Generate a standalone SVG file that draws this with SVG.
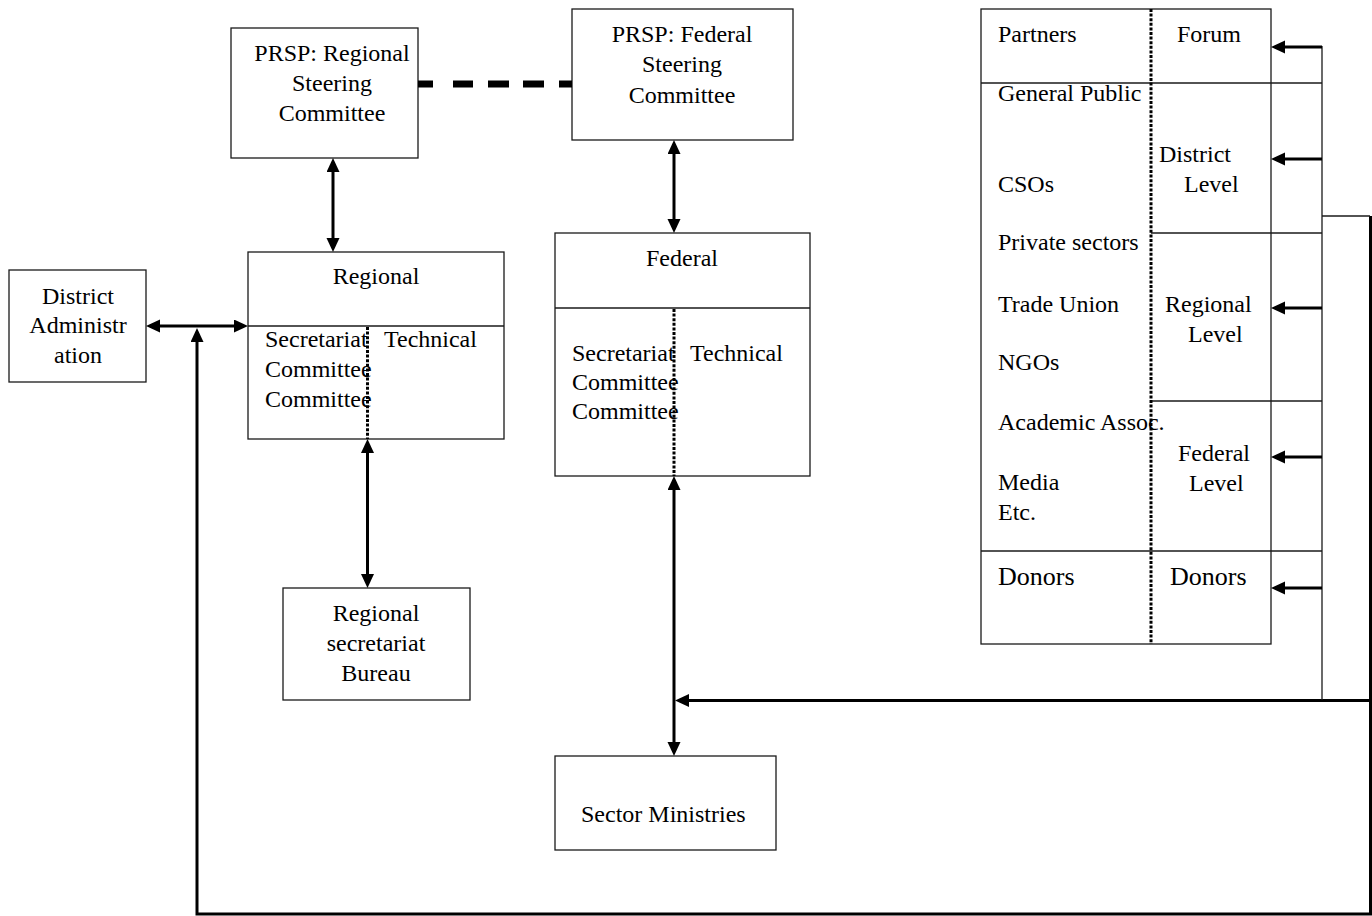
<svg xmlns="http://www.w3.org/2000/svg" width="1372" height="916" viewBox="0 0 1372 916">
<style>
text{font-family:"Liberation Serif","Times New Roman",serif;font-size:24px;fill:#000}
.c{text-anchor:middle}
.box{fill:#fff;stroke:#1a1a1a;stroke-width:1.3}
.thin{fill:none;stroke:#1a1a1a;stroke-width:1.3}
.dot{fill:none;stroke:#000;stroke-width:3;stroke-dasharray:3 1.6}
.arr{fill:none;stroke:#000;stroke-width:3}
.big{font-size:26px}
</style>
<defs>
<marker id="ah" markerUnits="userSpaceOnUse" markerWidth="16" markerHeight="14" refX="10" refY="6.5" orient="auto-start-reverse">
<path d="M0,0 L14,6.5 L0,13 z" fill="#000"/>
</marker>
</defs>
<rect width="1372" height="916" fill="#fff"/>

<g id="regional-steering">
<rect class="box" x="231" y="28" width="187" height="130"/>
<text class="c" x="332" y="61">PRSP: Regional</text>
<text class="c" x="332" y="91">Steering</text>
<text class="c" x="332" y="121">Committee</text>
</g>

<g id="federal-steering">
<rect class="box" x="572" y="9" width="221" height="131"/>
<text class="c" x="682" y="42">PRSP: Federal</text>
<text class="c" x="682" y="72">Steering</text>
<text class="c" x="682" y="103">Committee</text>
</g>

<g id="regional">
<rect class="box" x="248" y="252" width="256" height="187"/>
<line class="thin" x1="248" y1="326" x2="504" y2="326"/>
<line class="dot" x1="367.5" y1="327" x2="367.5" y2="439"/>
<text class="c" x="376" y="284">Regional</text>
<text x="265" y="347">Secretariat</text>
<text x="384" y="347">Technical</text>
<text x="265" y="377">Committee</text>
<text x="265" y="407">Committee</text>
</g>

<g id="federal">
<rect class="box" x="555" y="233" width="255" height="243"/>
<line class="thin" x1="555" y1="308" x2="810" y2="308"/>
<line class="dot" x1="674" y1="309" x2="674" y2="476"/>
<text class="c" x="682" y="266">Federal</text>
<text x="572" y="361">Secretariat</text>
<text x="690" y="361">Technical</text>
<text x="572" y="390">Committee</text>
<text x="572" y="419">Committee</text>
</g>

<g id="district-administration">
<rect class="box" x="9" y="270" width="137" height="112"/>
<text class="c" x="78" y="304">District</text>
<text class="c" x="78" y="333">Administr</text>
<text class="c" x="78" y="363">ation</text>
</g>

<g id="regional-secretariat-bureau">
<rect class="box" x="283" y="588" width="187" height="112"/>
<text class="c" x="376" y="621">Regional</text>
<text class="c" x="376" y="651">secretariat</text>
<text class="c" x="376" y="681">Bureau</text>
</g>

<g id="sector-ministries">
<rect class="box" x="555" y="756" width="221" height="94"/>
<text x="581" y="822">Sector Ministries</text>
</g>

<g id="partners-forum">
<rect class="box" x="981" y="9" width="290" height="635"/>
<line class="thin" x1="981" y1="83" x2="1322" y2="83"/>
<line class="thin" x1="1151" y1="233" x2="1322" y2="233"/>
<line class="thin" x1="1151" y1="401" x2="1322" y2="401"/>
<line class="thin" x1="981" y1="551" x2="1322" y2="551"/>
<line class="dot" x1="1151" y1="9" x2="1151" y2="644"/>
<text x="998" y="42">Partners</text>
<text x="1177" y="42">Forum</text>
<text x="998" y="101">General Public</text>
<text x="1159" y="162">District</text>
<text x="1184" y="192">Level</text>
<text x="998" y="192">CSOs</text>
<text x="998" y="250">Private sectors</text>
<text x="998" y="312">Trade Union</text>
<text x="1165" y="312">Regional</text>
<text x="1188" y="342">Level</text>
<text x="998" y="370">NGOs</text>
<text x="998" y="430">Academic Assoc.</text>
<text x="1178" y="461">Federal</text>
<text x="1189" y="491">Level</text>
<text x="998" y="490">Media</text>
<text x="998" y="520">Etc.</text>
<text class="big" x="998" y="585">Donors</text>
<text class="big" x="1170" y="585">Donors</text>
</g>

<g id="connectors">
<line x1="418" y1="84" x2="572" y2="84" stroke="#000" stroke-width="7" stroke-dasharray="15 20 20 15 21 14 21 15 13"/>
<line class="arr" x1="333" y1="162" x2="333" y2="248" marker-start="url(#ah)" marker-end="url(#ah)"/>
<line class="arr" x1="674" y1="144" x2="674" y2="229" marker-start="url(#ah)" marker-end="url(#ah)"/>
<line class="arr" x1="150" y1="326" x2="244" y2="326" marker-start="url(#ah)" marker-end="url(#ah)"/>
<line class="arr" x1="367.5" y1="443" x2="367.5" y2="584" marker-start="url(#ah)" marker-end="url(#ah)"/>
<line class="arr" x1="674" y1="480" x2="674" y2="752" marker-start="url(#ah)" marker-end="url(#ah)"/>
<path class="arr" d="M1370.5,216 V914 H197 V332" marker-end="url(#ah)"/>
<path class="arr" d="M1370.5,700.5 H679" marker-end="url(#ah)"/>
<path class="thin" d="M1322,46 V700"/>
<path class="thin" d="M1322,216 H1370"/>
<line class="arr" x1="1322" y1="47" x2="1275" y2="47" marker-end="url(#ah)"/>
<line class="arr" x1="1322" y1="159" x2="1275" y2="159" marker-end="url(#ah)"/>
<line class="arr" x1="1322" y1="308" x2="1275" y2="308" marker-end="url(#ah)"/>
<line class="arr" x1="1322" y1="457" x2="1275" y2="457" marker-end="url(#ah)"/>
<line class="arr" x1="1322" y1="588" x2="1275" y2="588" marker-end="url(#ah)"/>
</g>
</svg>
